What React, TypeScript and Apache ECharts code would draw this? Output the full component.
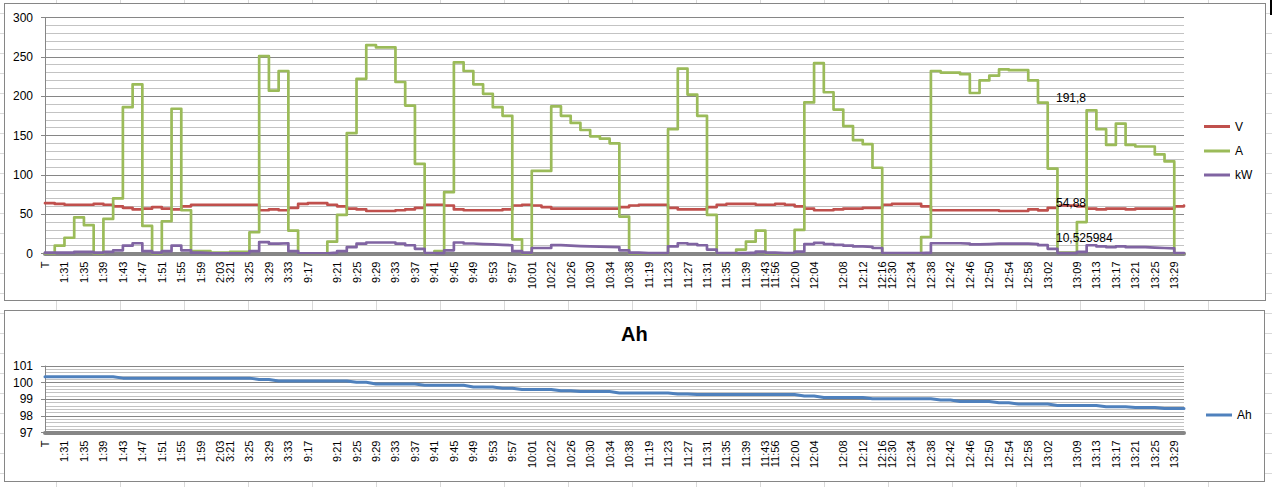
import React, { useEffect, useRef } from "react";
import * as echarts from "echarts";

const categories = [
  "T", "1:29", "1:31", "1:33", "1:35", "1:37", "1:39", "1:41", "1:43", "1:45",
  "1:47", "1:49", "1:51", "1:53", "1:55", "1:57", "1:59", "2:01", "2:03", "3:21",
  "3:23", "3:25", "3:27", "3:29", "3:31", "3:33", "3:35", "9:17", "9:18", "9:19",
  "9:21", "9:23", "9:25", "9:27", "9:29", "9:31", "9:33", "9:35", "9:37", "9:39",
  "9:41", "9:43", "9:45", "9:47", "9:49", "9:51", "9:53", "9:55", "9:57", "9:59",
  "10:01", "10:03", "10:22", "10:24", "10:26", "10:28", "10:30", "10:32", "10:34", "10:36",
  "10:38", "10:40", "11:19", "11:21", "11:23", "11:25", "11:27", "11:29", "11:31", "11:33",
  "11:35", "11:37", "11:39", "11:41", "11:43", "11:56", "11:58", "12:00", "12:02", "12:04",
  "12:05", "12:06", "12:08", "12:10", "12:12", "12:14", "12:16", "12:30", "12:32", "12:34",
  "12:36", "12:38", "12:40", "12:42", "12:44", "12:46", "12:48", "12:50", "12:52", "12:54",
  "12:56", "12:58", "13:00", "13:02", "13:04", "13:07", "13:09", "13:11", "13:13", "13:15",
  "13:17", "13:19", "13:21", "13:23", "13:25", "13:27", "13:29", "13:31",
];

const tickLabels = [
  "T", "1:31", "1:35", "1:39", "1:43", "1:47", "1:51", "1:55", "1:59", "2:03",
  "3:21", "3:25", "3:29", "3:33", "9:17", "9:21", "9:25", "9:29", "9:33", "9:37",
  "9:41", "9:45", "9:49", "9:53", "9:57", "10:01", "10:22", "10:26", "10:30", "10:34",
  "10:38", "11:19", "11:23", "11:27", "11:31", "11:35", "11:39", "11:43", "11:56", "12:00",
  "12:04", "12:08", "12:12", "12:16", "12:30", "12:34", "12:38", "12:42", "12:46", "12:50",
  "12:54", "12:58", "13:02", "13:09", "13:13", "13:17", "13:21", "13:25", "13:29",
];

const voltage = [
  64, 63, 62, 62, 62, 63, 62, 60, 58, 56,
  57, 59, 57, 56, 60, 62, 62, 62, 62, 62,
  62, 62, 55, 56, 55, 58, 63, 64, 64, 62,
  60, 57, 56, 54, 54, 54, 55, 56, 58, 62,
  62, 61, 56, 55, 55, 55, 55, 56, 61, 62,
  61, 59, 57, 57, 57, 57, 57, 57, 57, 59,
  61, 62, 62, 62, 58, 56, 56, 56, 59, 62,
  63, 63, 63, 62, 62, 63, 62, 60, 57, 55,
  55, 56, 57, 57, 58, 58, 62, 63, 63, 63,
  60, 55, 55, 55, 55, 55, 55, 55, 54, 54,
  54, 56, 54.88, 58, 61, 61, 60, 57, 56, 57,
  57, 56, 57, 57, 57, 57, 60, 61,
];

const current = [
  0, 10, 20, 46, 36, 0, 44, 70, 186, 215,
  35, 0, 41, 184, 55, 3, 3, 1, 1, 2,
  2, 27, 251, 207, 232, 29, 0, 0, 0, 15,
  49, 153, 222, 265, 262, 262, 218, 188, 114, 0,
  3, 78, 243, 232, 215, 203, 186, 175, 18, 0,
  105, 105, 187, 175, 166, 157, 149, 146, 140, 47,
  0, 0, 0, 0, 158, 235, 202, 175, 49, 0,
  0, 5, 15, 29, 0, 0, 0, 30, 192, 242,
  205, 183, 162, 144, 139, 109, 0, 0, 0, 0,
  21, 232, 230, 230, 228, 204, 220, 226, 234, 233,
  233, 220, 191.8, 108, 1, 1, 40, 182, 158, 138,
  165, 138, 136, 136, 126, 117, 0, 0,
];

const power = [
  1, 1, 1, 2, 2, 1, 2, 4, 10, 13,
  3, 1, 3, 10, 4, 1, 0.5, 0.3, 0.3, 0.3,
  0.5, 3, 14.5, 12.5, 13, 3, 0.3, 0.3, 0.3, 1,
  3, 8, 12.5, 14, 14, 14, 12.5, 10.5, 6, 0.5,
  0.5, 4, 14, 12.7, 12, 11.5, 11, 10.5, 3, 1,
  7, 7, 10.6, 10, 9.5, 9, 8.7, 8.5, 8.2, 4,
  1, 0.5, 0.5, 0.5, 9, 13, 12, 10.5, 5, 0.5,
  0.5, 0.5, 1, 2.5, 1, 0.5, 0.5, 2.5, 12, 13.5,
  12, 11, 10, 9, 8.5, 7, 0.5, 0.5, 0.5, 0.5,
  1, 13, 13, 13, 12.5, 11.5, 12, 12.5, 12.5, 12.5,
  12.5, 12, 10.525984, 6, 0.5, 0.5, 2, 10.5, 9, 8,
  9, 8, 8, 7.5, 7, 6.5, 0.5, 0.5,
];

const ampHours = [
  100.35, 100.35, 100.35, 100.35, 100.35, 100.35, 100.35, 100.35, 100.27, 100.27,
  100.27, 100.27, 100.27, 100.27, 100.27, 100.27, 100.27, 100.27, 100.27, 100.27,
  100.27, 100.27, 100.19, 100.19, 100.1, 100.1, 100.1, 100.1, 100.1, 100.1,
  100.1, 100.1, 100.02, 100.02, 99.92, 99.92, 99.92, 99.92, 99.92, 99.84,
  99.84, 99.84, 99.84, 99.84, 99.74, 99.74, 99.74, 99.66, 99.66, 99.59,
  99.59, 99.59, 99.59, 99.51, 99.51, 99.46, 99.46, 99.46, 99.46, 99.38,
  99.38, 99.38, 99.38, 99.38, 99.38, 99.31, 99.31, 99.28, 99.28, 99.28,
  99.28, 99.28, 99.28, 99.28, 99.28, 99.28, 99.28, 99.28, 99.2, 99.2,
  99.11, 99.11, 99.11, 99.11, 99.11, 99.03, 99.03, 99.03, 99.03, 99.03,
  99.03, 99.03, 98.95, 98.95, 98.87, 98.87, 98.87, 98.87, 98.79, 98.79,
  98.71, 98.71, 98.71, 98.71, 98.63, 98.63, 98.63, 98.63, 98.63, 98.55,
  98.55, 98.55, 98.5, 98.5, 98.5, 98.45, 98.45, 98.45,
];

const labelIndex = 102;

const FONT = '"Liberation Sans", Arial, sans-serif';
const AXIS_GRAY = "#868686";
const MINOR_GRAY = "#c3c3c3";
const SHEET_GRAY = "#d9d9d9";

const sheetCols = Array.from({ length: 20 }, (_, k) => 56 + 64 * k);
const sheetRows = Array.from({ length: 24 }, (_, k) => 13 + 20 * k);

export default function App() {
  const ref = useRef<HTMLDivElement>(null);

  useEffect(() => {
    if (!ref.current) return;
    const chart = echarts.init(ref.current, null, { renderer: "svg" });
    const tickSet = new Set(tickLabels);

    const labeled = (arr: number[], dy: number) =>
      arr.map((v, i) =>
        i === labelIndex
          ? {
              value: v,
              label: {
                show: true,
                position: "right",
                distance: 18,
                offset: [0, dy],
                formatter: (p: any) => String(p.value).replace(".", ","),
                color: "#000",
                fontSize: 12,
                fontFamily: FONT,
              },
            }
          : v
      );

    const xAxis = (gridIndex: number) => ({
      type: "category",
      gridIndex,
      data: categories,
      boundaryGap: false,
      axisLine: { show: true, lineStyle: { color: AXIS_GRAY, width: 4 } },
      axisTick: { show: false },
      splitLine: { show: false },
      axisLabel: {
        interval: (_i: number, name: string) => tickSet.has(name),
        rotate: 90,
        fontSize: 11,
        fontFamily: FONT,
        color: "#000",
        margin: 8,
      },
    });

    const yAxis = (gridIndex: number, min: number, max: number, interval: number) => ({
      type: "value",
      gridIndex,
      min,
      max,
      interval,
      axisLine: { show: true, lineStyle: { color: AXIS_GRAY, width: 1 } },
      axisTick: { show: true, length: 4, lineStyle: { color: AXIS_GRAY } },
      axisLabel: { fontSize: 12, fontFamily: FONT, color: "#000", margin: 12 },
      splitLine: { show: true, lineStyle: { color: AXIS_GRAY, width: 1 } },
      minorTick: { show: false, splitNumber: 5 },
      minorSplitLine: { show: true, lineStyle: { color: MINOR_GRAY, width: 1 } },
    });

    const stepSeries = (name: string, data: any[], color: string) => ({
      name,
      type: "line",
      xAxisIndex: 0,
      yAxisIndex: 0,
      step: "end",
      data,
      symbol: "circle",
      symbolSize: 0,
      showSymbol: true,
      showAllSymbol: true,
      itemStyle: { color },
      lineStyle: { color, width: 2.7, cap: "round", join: "round" },
    });

    const legendItem = (name: string, left: number, top: number) => ({
      data: [name],
      orient: "vertical",
      left,
      top,
      padding: 0,
      icon: "rect",
      itemWidth: 26,
      itemHeight: 3,
      selectedMode: false,
      textStyle: { fontSize: 12, color: "#000", fontFamily: FONT },
    });

    chart.setOption({
      animation: false,
      backgroundColor: "transparent",
      textStyle: { fontFamily: FONT },
      title: {
        text: "Ah",
        left: 616,
        top: 319,
        textStyle: { fontSize: 20, fontWeight: "bold", color: "#000", fontFamily: FONT },
      },
      legend: [
        legendItem("V", 1204, 120.5),
        legendItem("A", 1204, 145),
        legendItem("kW", 1204, 169),
        legendItem("Ah", 1206, 409),
      ],
      grid: [
        { left: 45, top: 17.5, width: 1139, height: 236 },
        { left: 45, top: 366, width: 1139, height: 66.5 },
      ],
      xAxis: [xAxis(0), xAxis(1)],
      yAxis: [yAxis(0, 0, 300, 50), yAxis(1, 97, 101, 1)],
      series: [
        stepSeries("V", labeled(voltage, -7), "#C0504D"),
        stepSeries("A", labeled(current, -5), "#9BBB59"),
        stepSeries("kW", labeled(power, -7), "#8064A2"),
        {
          name: "Ah",
          type: "line",
          xAxisIndex: 1,
          yAxisIndex: 1,
          data: ampHours,
          symbol: "none",
          itemStyle: { color: "#4F81BD" },
          lineStyle: { color: "#4F81BD", width: 3, cap: "round", join: "round" },
        },
      ],
    });

    return () => chart.dispose();
  }, []);

  return (
    <div
      style={{
        position: "fixed",
        left: 0,
        top: 0,
        width: 1272,
        height: 487,
        background: "#fff",
        overflow: "hidden",
      }}
    >
      {sheetCols.map((x) => (
        <div
          key={"c" + x}
          style={{ position: "absolute", left: x, top: 0, width: 1, height: 487, background: SHEET_GRAY }}
        />
      ))}
      {sheetRows.map((y) => (
        <div
          key={"r" + y}
          style={{ position: "absolute", left: 0, top: y, width: 1272, height: 1, background: SHEET_GRAY }}
        />
      ))}
      <div
        style={{
          position: "absolute",
          left: 4,
          top: 3,
          width: 1262,
          height: 298,
          boxSizing: "border-box",
          border: "1px solid " + AXIS_GRAY,
          background: "#fff",
        }}
      />
      <div
        style={{
          position: "absolute",
          left: 4,
          top: 310,
          width: 1261,
          height: 172,
          boxSizing: "border-box",
          border: "1px solid " + AXIS_GRAY,
          background: "#fff",
        }}
      />
      <div style={{ position: "absolute", left: 1270, top: 0, width: 2, height: 15, background: "#000" }} />
      <div ref={ref} style={{ position: "absolute", left: 0, top: 0, width: 1272, height: 487 }} />
    </div>
  );
}
